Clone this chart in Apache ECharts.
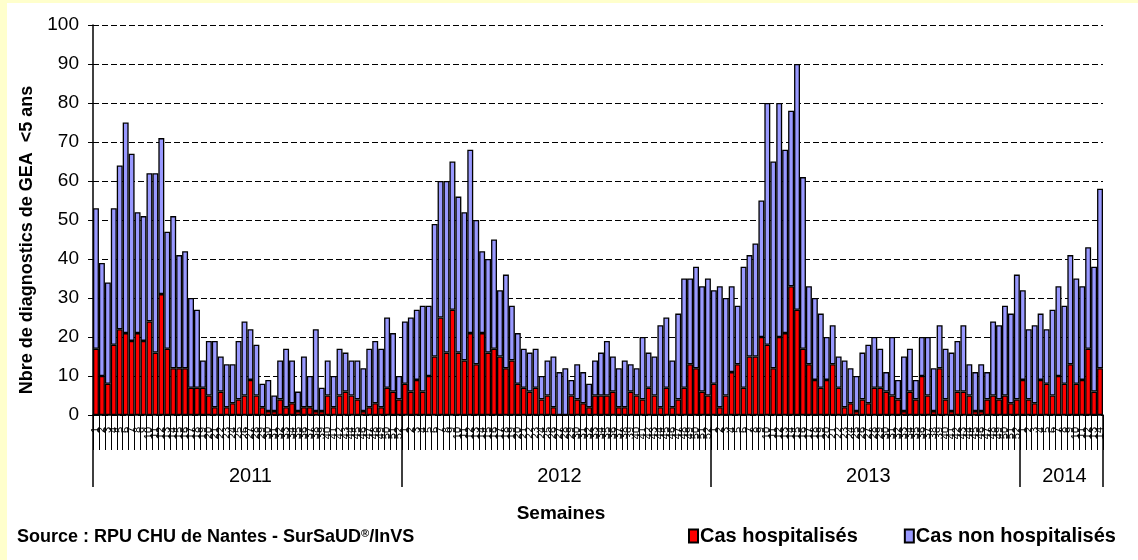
<!DOCTYPE html>
<html>
<head>
<meta charset="utf-8">
<script src="https://cdn.jsdelivr.net/npm/echarts@6/dist/echarts.min.js"></script>
<style>
    html, body { margin: 0; padding: 0; background: #ffffcc; }
    #chart { position: absolute; left: 7px; top: 3px; width: 1131px; height: 557px; background: #fff; }
</style>
</head>
<body>
<div id="chart"></div>
<script>
// années et nombre de semaines affichées
const years = ['2011', '2012', '2013', '2014'];
const weeksPerYear = [52, 52, 52, 14];
const yTicks = [0, 10, 20, 30, 40, 50, 60, 70, 80, 90, 100];

// Cas hospitalisés (rouge)
const hosp2011 = [17,10,8,18,22,21,19,21,19,24,16,31,17,12,12,12,7,7,7,5,2,6,2,3,4,5,9,5,2,1,1,4,2,3,1,2,2,1,1,5,2,5,6,5,4,1,2,3,2,7,6,4];
const hosp2012 = [8,6,9,6,10,15,25,16,27,16,14,21,13,21,16,17,15,12,14,8,7,6,7,4,5,2,0,0,5,4,3,2,5,5,5,6,2,2,6,5,4,7,5,2,7,2,4,7,13,12,6,5];
const hosp2013 = [8,2,5,11,13,7,15,15,20,18,12,20,21,33,27,17,13,9,7,9,13,7,2,3,1,4,3,7,7,6,5,4,1,6,4,10,5,1,12,4,1,6,6,5,1,1,4,5,4,5,3,4];
const hosp2014 = [9,4,3,9,8,5,10,8,13,8,9,17,6,12];

// Cas non hospitalisés (bleu)
const nonHosp2011 = [36,29,26,35,42,54,48,31,32,38,46,40,30,39,29,30,23,20,7,14,17,9,11,10,15,19,13,13,6,8,4,10,15,11,5,13,8,21,6,9,8,12,10,9,10,11,15,16,15,18,15,6];
const nonHosp2012 = [16,19,18,22,18,34,35,44,38,40,38,47,37,21,24,28,17,24,14,13,10,10,10,6,9,13,11,12,4,9,8,6,9,11,14,9,10,12,7,7,16,9,10,21,18,12,22,28,22,26,27,30];
const nonHosp2013 = [24,31,25,22,15,31,26,29,35,62,53,60,47,45,63,44,20,21,19,11,10,8,12,9,9,12,15,13,10,5,15,5,14,11,5,10,15,11,11,13,15,13,17,8,10,12,7,19,19,23,23,32];
const nonHosp2014 = [23,18,20,17,14,22,23,20,28,27,24,26,32,46];

const hospData = [].concat(hosp2011, hosp2012, hosp2013, hosp2014);
const nonHospData = [].concat(nonHosp2011, nonHosp2012, nonHosp2013, nonHosp2014);

// libellés des semaines + début / milieu de chaque année
let weekLabels = [];
let yearStarts = [];
let yearMiddles = {};
weeksPerYear.forEach((n, k) => {
    yearStarts.push(weekLabels.length);
    yearMiddles[weekLabels.length + Math.floor(n / 2)] = years[k];
    for (let w = 1; w <= n; w++) weekLabels.push(String(w));
});

const font = 'Liberation Sans, Arial, sans-serif';
let myChart = echarts.init(document.getElementById('chart'));
let option = {
    backgroundColor: '#fff',
    animation: false,
    textStyle: { fontFamily: font },
    grid: { left: 86, top: 22, right: 35, bottom: 145 },
    legend: {
        left: 681,
        top: 523,
        padding: 0,
        itemWidth: 9,
        itemHeight: 13,
        itemGap: 46,
        icon: 'rect',
        textStyle: { fontSize: 20, fontWeight: 'bold', color: '#000', fontFamily: font, padding: [0, 0, 0, -3] },
        data: ['Cas hospitalisés', 'Cas non hospitalisés']
    },
    xAxis: [
        {
            type: 'category',
            data: weekLabels,
            axisLine: { lineStyle: { color: '#000', width: 1.5 } },
            axisTick: { show: true, interval: 0, length: 35, lineStyle: { color: '#000', width: 1 } },
            axisLabel: { interval: 0, rotate: 90, fontSize: 11, color: '#000', margin: 12 }
        },
        {
            type: 'category',
            data: weekLabels,
            position: 'bottom',
            axisLine: { show: false },
            axisTick: {
                show: true,
                interval: (i) => yearStarts.indexOf(i) >= 0,
                length: 72,
                lineStyle: { color: '#000', width: 1.5 }
            },
            axisLabel: {
                interval: 0,
                margin: 51,
                fontSize: 20,
                color: '#000',
                formatter: (v, i) => yearMiddles[i] || ''
            },
            name: 'Semaines',
            nameLocation: 'middle',
            nameGap: 89,
            nameTextStyle: { fontSize: 19, fontWeight: 'bold', color: '#000', padding: [0, 74, 0, 0] }
        }
    ],
    yAxis: {
        type: 'value',
        min: yTicks[0],
        max: yTicks[yTicks.length - 1],
        interval: 10,
        name: 'Nbre de diagnostics de GEA  <5 ans',
        nameLocation: 'middle',
        nameGap: 55,
        nameTextStyle: { fontSize: 18, fontWeight: 'bold', color: '#000', padding: [0, 40, 0, 0] },
        axisLine: { show: true, lineStyle: { color: '#000', width: 1.5 } },
        axisTick: { show: true, length: 5, lineStyle: { color: '#000' } },
        axisLabel: { fontSize: 19, color: '#000', margin: 14 },
        splitLine: { lineStyle: { color: '#000', type: [6, 3], width: 1 } }
    },
    graphic: [
        {
            type: 'text',
            left: 10,
            top: 525,
            style: {
                text: 'Source : RPU CHU de Nantes - SurSaUD{sup|®}/InVS',
                font: 'bold 18px Liberation Sans, Arial, sans-serif',
                fill: '#000',
                rich: {
                    sup: { fontSize: 11, fontWeight: 'bold', verticalAlign: 'top', padding: [0, 0, 7, 0] }
                }
            }
        }
    ],
    series: [
        {
            name: 'Cas hospitalisés',
            type: 'bar',
            stack: 'cas',
            barCategoryGap: '0%',
            data: hospData,
            itemStyle: { color: '#ff0000', borderColor: '#000', borderWidth: 1.3 }
        },
        {
            name: 'Cas non hospitalisés',
            type: 'bar',
            stack: 'cas',
            barCategoryGap: '0%',
            data: nonHospData,
            itemStyle: { color: '#9999ff', borderColor: '#000', borderWidth: 1.3 }
        }
    ]
};
option && myChart.setOption(option);
</script>
</body>
</html>
